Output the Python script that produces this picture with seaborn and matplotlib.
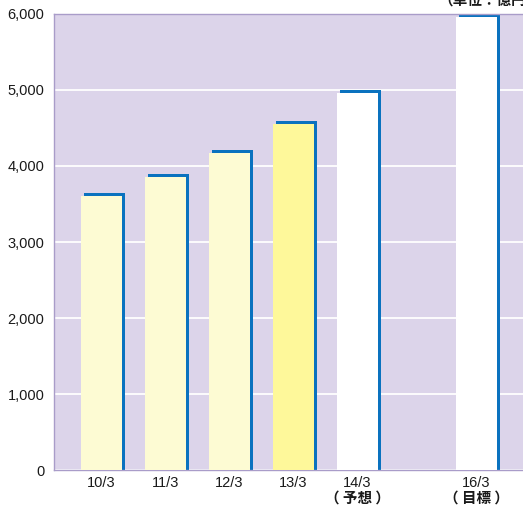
import numpy as np
import pandas as pd
import matplotlib
matplotlib.use("Agg")
import matplotlib.pyplot as plt
import matplotlib.transforms as mtransforms
import seaborn as sns

sns.set_style("white")
plt.rcParams['font.family'] = ['Liberation Sans', 'Noto Sans CJK JP', 'DejaVu Sans']

# data (億円)
labels = ['10/3', '11/3', '12/3', '13/3', '14/3', '16/3']
positions = [0, 1, 2, 3, 4, 5.86]
values = [3640, 3890, 4210, 4590, 5000, 6000]
notes = {'14/3': '（ 予想 ）', '16/3': '（ 目標 ）'}
fill_colors = ['#fdfbd3', '#fdfbd3', '#fdfbd3', '#fef89a', '#ffffff', '#ffffff']

df = pd.DataFrame({'pos': positions, 'label': labels, 'value': values})

fig = plt.figure(figsize=(5.23, 5.07), dpi=100)
ax = fig.add_axes([54 / 523, 37 / 507, 1 - 54 / 523, 456 / 507])
ax.set_facecolor('#dcd4ea')

# blue "shadow" bars, shifted 3px right
sns.barplot(data=df, x='pos', y='value', native_scale=True, width=0.64,
            color='#0a72bf', saturation=1, ax=ax, zorder=2)
n_blue = len(ax.patches)
shift_r = mtransforms.offset_copy(ax.transData, fig=fig, x=3, y=0, units='dots')
for p in ax.patches[:n_blue]:
    p.set_transform(shift_r)
    p.set_linewidth(0)

# face bars, shifted 3px down
sns.barplot(data=df, x='pos', y='value', hue='label', native_scale=True,
            dodge=False, width=0.64, palette=dict(zip(labels, fill_colors)),
            saturation=1, legend=False, ax=ax, zorder=3)
shift_d = mtransforms.offset_copy(ax.transData, fig=fig, x=0, y=-3, units='dots')
for p in ax.patches[n_blue:]:
    p.set_transform(shift_d)
    p.set_linewidth(0)

ax.set_xlim(-0.74, 6.59)
ax.set_ylim(0, 6000)
ax.set_yticks(np.arange(0, 6001, 1000))
ax.set_yticklabels([f'{v:,}' for v in range(0, 6001, 1000)], fontsize=10.5)
ax.set_xticks(positions)
ax.set_xticklabels(labels, fontsize=10.5)
ax.tick_params(axis='both', length=0, colors='#1a1a1a')
ax.tick_params(axis='y', pad=7)
ax.tick_params(axis='x', pad=4)
ax.set_xlabel('')
ax.set_ylabel('')

ax.yaxis.grid(True, color='white', linewidth=1.3, zorder=1)
ax.set_axisbelow(True)

for side in ['left', 'bottom', 'top']:
    ax.spines[side].set_color('#a99cc9')
    ax.spines[side].set_linewidth(1)
ax.spines['right'].set_visible(False)

# second line under the forecast / target labels
trans = mtransforms.blended_transform_factory(ax.transData, ax.transAxes)
for lab, pos in zip(labels, positions):
    if lab in notes:
        ax.text(pos, -0.06, notes[lab], transform=trans, ha='center', va='center',
                fontsize=10.5, fontweight='bold', color='#1a1a1a',
                family=['Noto Sans CJK JP', 'DejaVu Sans'])

fig.text(438 / 523, 1 - 1 / 507, '（単位：億円）', ha='left', va='center',
         fontsize=10.5, fontweight='bold', color='#1a1a1a',
         family=['Noto Sans CJK JP', 'DejaVu Sans'])

fig.savefig('out.png', dpi=100)
